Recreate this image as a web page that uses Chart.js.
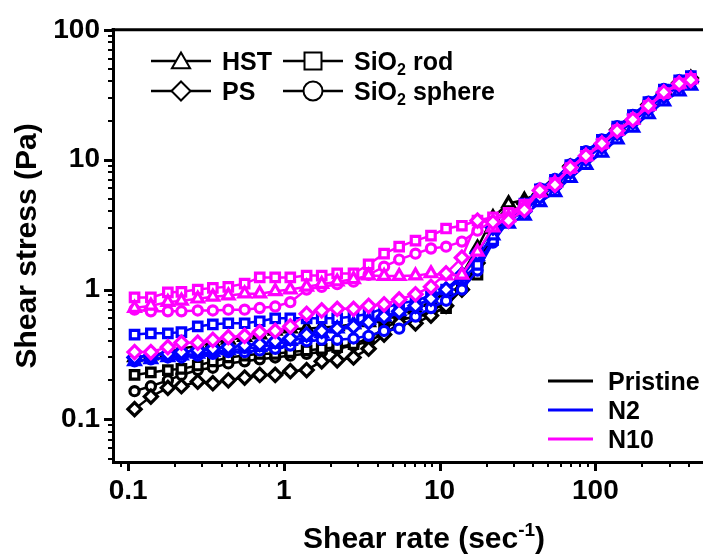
<!DOCTYPE html>
<html><head><meta charset="utf-8">
<script src="https://cdn.jsdelivr.net/npm/chart.js@4/dist/chart.umd.min.js"></script>
<style>html,body{margin:0;padding:0;background:#fff;overflow:hidden;width:703px;height:555px}canvas{display:block}</style>
</head><body>
<canvas id="c" width="745" height="555" style="width:745px;height:555px"></canvas>
<script>
// ---------- data ----------
const shearRate = [0.11, 0.14, 0.18, 0.22, 0.28, 0.35, 0.44, 0.56, 0.70, 0.88,
  1.1, 1.4, 1.75, 2.2, 2.8, 3.5, 4.4, 5.5, 7.0, 8.8,
  11, 13.9, 17.5, 22, 27.7, 35, 44, 55, 69, 87,
  110, 138, 174, 219, 275, 345, 410];

const pristinePS = [0.12, 0.15, 0.175, 0.18, 0.195, 0.19, 0.2, 0.21, 0.22, 0.22,
  0.235, 0.24, 0.28, 0.285, 0.3, 0.35, 0.45, 0.55, 0.55, 0.63,
  0.75, 1.0, 1.6, 2.8, 3.8, 4.6, 5.4, 6.6, 8.9, 10.3,
  13.0, 17.0, 20.0, 26.5, 32.0, 39.0, 42.5];
const pristineHST = [0.3, 0.31, 0.33, 0.35, 0.37, 0.39, 0.41, 0.43, 0.45, 0.48,
  0.5, 0.5, 0.51, 0.52, 0.54, 0.56, 0.6, 0.65, 0.7, 0.8,
  0.95, 1.3, 2.1, 3.6, 4.6, 4.9, 5.6, 6.7, 8.6, 10.8,
  13.4, 16.9, 20.7, 26.2, 32.8, 38.8, 42.5];
const pristineRod = [0.22, 0.23, 0.24, 0.245, 0.26, 0.28, 0.3, 0.31, 0.32, 0.32,
  0.33, 0.34, 0.35, 0.36, 0.38, 0.42, 0.5, 0.58, 0.62, 0.66,
  0.72, 1.1, 1.3, 2.6, 3.8, 4.4, 5.5, 6.6, 8.5, 10.6,
  13.2, 16.7, 20.4, 25.8, 32.3, 38.3, 42];
const pristineSphere = [0.165, 0.18, 0.2, 0.22, 0.24, 0.25, 0.27, 0.28, 0.29, 0.3,
  0.31, 0.32, 0.33, 0.35, 0.37, 0.4, 0.46, 0.52, 0.6, 0.68,
  0.8, 1.0, 1.5, 2.7, 3.7, 4.3, 5.5, 6.6, 8.5, 10.6,
  13.2, 16.7, 20.4, 25.8, 32.3, 38.3, 42];

const n2PS = [0.3, 0.31, 0.32, 0.33, 0.34, 0.35, 0.36, 0.37, 0.38, 0.4,
  0.42, 0.45, 0.48, 0.5, 0.52, 0.56, 0.62, 0.68, 0.75, 0.85,
  1.0, 1.3, 1.9, 3.0, 3.4, 4.0, 5.2, 6.2, 8.1, 10.2,
  12.6, 16.0, 19.5, 24.7, 30.9, 36.6, 40];
const n2HST = [0.28, 0.29, 0.3, 0.31, 0.32, 0.33, 0.34, 0.35, 0.36, 0.38,
  0.4, 0.43, 0.46, 0.5, 0.54, 0.58, 0.62, 0.68, 0.75, 0.85,
  1.0, 1.25, 1.8, 2.6, 3.2, 3.7, 4.7, 5.6, 7.2, 9.1,
  11.3, 14.3, 17.6, 22.3, 28.0, 33.5, 37];
const n2Rod = [0.45, 0.46, 0.46, 0.47, 0.52, 0.54, 0.55, 0.55, 0.57, 0.6,
  0.6, 0.6, 0.6, 0.6, 0.62, 0.65, 0.72, 0.78, 0.82, 0.9,
  1.0, 1.2, 1.55, 2.4, 3.6, 4.6, 5.9, 7.0, 9.1, 11.5,
  14.2, 18.0, 22.0, 27.8, 34.7, 40.8, 44];
const n2Sphere = [0.28, 0.29, 0.3, 0.3, 0.31, 0.32, 0.33, 0.33, 0.34, 0.35,
  0.37, 0.4, 0.41, 0.41, 0.42, 0.44, 0.48, 0.5, 0.62, 0.72,
  0.82, 1.0, 1.4, 2.3, 3.4, 4.5, 6.0, 7.1, 9.2, 11.6,
  14.3, 18.1, 22.1, 28.0, 35.0, 41.0, 44];

const n10PS = [0.33, 0.33, 0.36, 0.39, 0.39, 0.41, 0.43, 0.44, 0.47, 0.48,
  0.52, 0.65, 0.69, 0.71, 0.71, 0.75, 0.77, 0.84, 0.92, 1.05,
  1.33, 1.76, 3.4, 3.3, 3.4, 4.1, 5.8, 6.4, 8.7, 10.7,
  13.3, 16.7, 20.3, 26.0, 33.0, 38.5, 41];
const n10HST = [0.72, 0.75, 0.8, 0.82, 0.85, 0.88, 0.9, 0.93, 0.93, 0.97,
  1.0, 1.05, 1.1, 1.15, 1.2, 1.28, 1.27, 1.27, 1.28, 1.33,
  1.28, 1.3, 1.95, 3.0, 3.6, 4.3, 5.6, 6.6, 8.6, 10.6,
  13.2, 16.6, 20.2, 25.8, 32.5, 38.3, 41.5];
const n10Rod = [0.87, 0.87, 0.95, 0.96, 1.0, 1.03, 1.05, 1.11, 1.24, 1.24,
  1.24, 1.28, 1.28, 1.33, 1.33, 1.56, 1.89, 2.14, 2.38, 2.6,
  2.95, 3.1, 3.4, 3.6, 3.9, 4.5, 5.7, 6.6, 8.6, 10.7,
  13.3, 16.8, 20.5, 26.0, 32.5, 38.5, 42];
const n10Sphere = [0.7, 0.68, 0.68, 0.68, 0.69, 0.69, 0.7, 0.7, 0.72, 0.74,
  0.8, 1.0, 1.05, 1.1, 1.15, 1.3, 1.5, 1.7, 1.89, 2.07,
  2.14, 2.34, 2.84, 3.4, 3.8, 4.4, 5.6, 6.6, 8.6, 10.7,
  13.3, 16.8, 20.5, 26.0, 32.5, 38.5, 42];

const xTickValues = [0.1, 1, 10, 100];
const yTickValues = [0.1, 1, 10, 100];
const sampleNames = ['Pristine', 'N2', 'N10'];
const fillerNames = ['HST', 'PS', 'SiO2 rod', 'SiO2 sphere'];

// ---------- styling ----------
const FONT = '"Liberation Sans", Arial, Helvetica, sans-serif';
const sampleColor = { Pristine: '#000000', N2: '#0000ff', N10: '#ff00ff' };
const fillerStyle = {
  'HST': { pointStyle: 'triangle', radius: 6.6 },
  'PS': { pointStyle: 'rectRot', radius: 6.6 },
  'SiO2 rod': { pointStyle: 'rect', radius: 6.0 },
  'SiO2 sphere': { pointStyle: 'circle', radius: 4.6 }
};

// drawing order: first listed is drawn on top
const seriesList = [
  ['N10', 'PS', n10PS], ['N10', 'HST', n10HST], ['N10', 'SiO2 rod', n10Rod], ['N10', 'SiO2 sphere', n10Sphere],
  ['N2', 'PS', n2PS], ['N2', 'HST', n2HST], ['N2', 'SiO2 rod', n2Rod], ['N2', 'SiO2 sphere', n2Sphere],
  ['Pristine', 'PS', pristinePS], ['Pristine', 'HST', pristineHST], ['Pristine', 'SiO2 rod', pristineRod], ['Pristine', 'SiO2 sphere', pristineSphere]
];

const datasets = seriesList.map(([sample, filler, values]) => ({
  label: sample + ' ' + filler,
  data: shearRate.map((x, i) => ({ x: x, y: values[i] })),
  borderColor: sampleColor[sample],
  backgroundColor: '#ffffff',
  pointBackgroundColor: '#ffffff',
  pointBorderColor: sampleColor[sample],
  pointBorderWidth: 3.2,
  pointStyle: fillerStyle[filler].pointStyle,
  pointRadius: fillerStyle[filler].radius,
  borderWidth: 2.5,
  tension: 0,
  fill: false
}));

const minorMult = [1, 2, 3, 4, 5, 6, 7, 8, 9];
const decades = [0.01, 0.1, 1, 10, 100, 1000];

const frameTicks = {
  id: 'frameTicks',
  afterDraw(chart) {
    const { ctx, chartArea: ca, scales } = chart;
    const x = scales.x, y = scales.y;
    ctx.save();
    ctx.strokeStyle = '#000';
    ctx.lineCap = 'butt';
    ctx.lineWidth = 3;
    ctx.beginPath(); ctx.moveTo(ca.left - 1.5, ca.top); ctx.lineTo(ca.right + 2, ca.top); ctx.stroke();
    for (const d of decades) {
      for (const m of minorMult) {
        const v = d * m;
        const major = m === 1;
        const len = major ? 9 : 5;
        ctx.lineWidth = major ? 3 : 2;
        if (v >= x.min * 1.001 && v <= x.max) {
          const px = Math.round(x.getPixelForValue(v)) + (major ? 0.5 : 0);
          ctx.beginPath(); ctx.moveTo(px, ca.bottom); ctx.lineTo(px, ca.bottom + len); ctx.stroke();
        }
        if (v >= y.min && v <= y.max) {
          const py = Math.round(y.getPixelForValue(v)) + (major ? 0.5 : 0);
          ctx.beginPath(); ctx.moveTo(ca.left, py); ctx.lineTo(ca.left - len, py); ctx.stroke();
        }
      }
    }
    ctx.restore();
  }
};

function richText(ctx, parts, x, baseline, size, measureOnly) {
  let cx = x;
  for (const p of parts) {
    const small = p.sub || p.sup;
    const s = small ? Math.round(size * 0.62) : size;
    ctx.font = 'bold ' + s + 'px ' + FONT;
    const dy = p.sub ? size * 0.2 : (p.sup ? -size * 0.4 : 0);
    if (!measureOnly) ctx.fillText(p.t, cx, baseline + dy);
    cx += ctx.measureText(p.t).width;
  }
  return cx - x;
}

function labelParts(name) {
  if (name.startsWith('SiO2')) return [{ t: 'SiO' }, { t: '2', sub: true }, { t: name.slice(4) }];
  return [{ t: name }];
}

const legends = {
  id: 'legends',
  afterDraw(chart) {
    const ctx = chart.ctx;
    ctx.save();
    ctx.textBaseline = 'alphabetic';
    ctx.textAlign = 'left';
    ctx.fillStyle = '#000';
    // shape legend (top left)
    const shapeItems = [
      { name: fillerNames[0], cx: 181, cy: 61, r: 10.5, lx: 151 },
      { name: fillerNames[2], cx: 313, cy: 61, r: 12, lx: 283 },
      { name: fillerNames[1], cx: 181, cy: 91, r: 9.5, lx: 151 },
      { name: fillerNames[3], cx: 313, cy: 91, r: 9.5, lx: 283 }
    ];
    for (const it of shapeItems) {
      ctx.strokeStyle = '#000';
      ctx.lineWidth = 2.5;
      ctx.beginPath(); ctx.moveTo(it.lx, it.cy); ctx.lineTo(it.lx + 60, it.cy); ctx.stroke();
      ctx.fillStyle = '#fff';
      ctx.lineWidth = 2;
      Chart.helpers.drawPoint(ctx, { pointStyle: fillerStyle[it.name].pointStyle, radius: it.r, rotation: 0, borderWidth: 2 }, it.cx, it.cy + (fillerStyle[it.name].pointStyle === 'triangle' ? 2 : 0));
      ctx.fillStyle = '#000';
      richText(ctx, labelParts(it.name), it.lx + 71, it.cy + 9, 25);
    }
    // colour legend (bottom right)
    const rows = [381, 410, 439];
    sampleNames.forEach((s, i) => {
      ctx.strokeStyle = sampleColor[s];
      ctx.lineWidth = 3;
      ctx.beginPath(); ctx.moveTo(548, rows[i]); ctx.lineTo(593, rows[i]); ctx.stroke();
      ctx.fillStyle = '#000';
      richText(ctx, [{ t: s }], 608, rows[i] + 9, 25);
    });
    // x axis title with superscript
    const xs = chart.scales.x;
    const parts = [{ t: 'Shear rate (sec' }, { t: '-1', sup: true }, { t: ')' }];
    const w = richText(ctx, parts, 0, 0, 30, true);
    const cxm = (chart.chartArea.left + chart.chartArea.right) / 2;
    richText(ctx, parts, cxm - w / 2, xs.bottom - 7, 30);
    ctx.restore();
  }
};

new Chart(document.getElementById('c'), {
  type: 'line',
  data: { datasets },
  options: {
    responsive: false,
    devicePixelRatio: 1,
    animation: false,
    events: [],
    layout: { padding: { top: 29, right: 2, left: 0, bottom: 0 } },
    plugins: { legend: { display: false }, tooltip: { enabled: false } },
    scales: {
      x: {
        type: 'logarithmic',
        min: 0.08, max: 790,
        afterBuildTicks: (s) => { s.ticks = xTickValues.map(v => ({ value: v, major: true })); },
        afterFit: (s) => { s.height = 93; },
        ticks: {
          callback: (v) => String(v),
          font: { family: FONT, size: 28, weight: 'bold' },
          color: '#000', padding: 12, maxRotation: 0, autoSkip: false
        },
        grid: { display: false, drawTicks: false },
        border: { display: true, color: '#000', width: 3 },
        title: { display: false }
      },
      y: {
        type: 'logarithmic',
        min: 0.047, max: 100,
        afterBuildTicks: (s) => { s.ticks = yTickValues.map(v => ({ value: v, major: true })); },
        afterFit: (s) => { s.width = 113; },
        ticks: {
          callback: (v) => String(v),
          font: { family: FONT, size: 28, weight: 'bold' },
          color: '#000', padding: 13, autoSkip: false
        },
        grid: { display: false, drawTicks: false },
        border: { display: true, color: '#000', width: 3 },
        title: {
          display: true, text: 'Shear stress (Pa)', color: '#000',
          font: { family: FONT, size: 30, weight: 'bold' },
          padding: { top: 10, bottom: 0 }
        }
      }
    }
  },
  plugins: [frameTicks, legends]
});
</script>
</body></html>
